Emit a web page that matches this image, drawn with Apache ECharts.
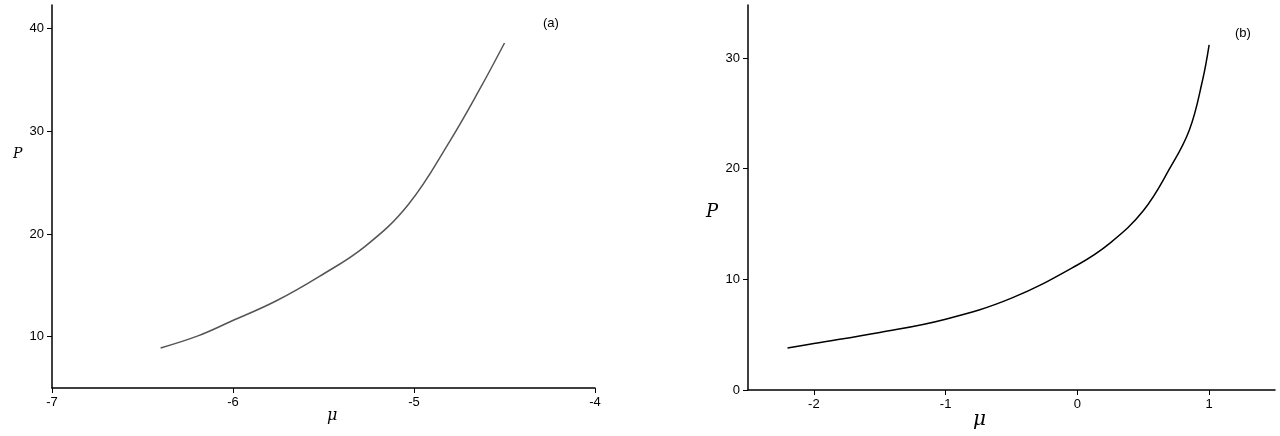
<!DOCTYPE html><html><head><meta charset="utf-8"><script src="https://cdn.jsdelivr.net/npm/echarts@6/dist/echarts.min.js"></script></head><body style="margin:0;background:#fff"><div id="c" style="width:1280px;height:436px"></div><script>
const muA=[-6.40,-6.19,-6.01,-5.76,-5.52,-5.27,-5.03,-4.80,-4.64,-4.50];
const pA=[8.9,10.1,11.5,13.5,15.9,18.8,22.9,29.1,34.0,38.6];
const muB=[-2.2,-2.0,-1.5,-1.0,-0.5,0,0.25,0.5,0.7,0.85,0.95,1.0];
const pB=[3.8,4.2,5.2,6.4,8.3,11.3,13.3,16.2,20,23.5,28,31.2];
const ticksA=[-7,-6,-5,-4], yTicksA=[10,20,30,40];
const ticksB=[-2,-1,0,1], yTicksB=[0,10,20,30];
const ax={axisLine:{onZero:false,lineStyle:{color:'#000',width:1.5}},splitLine:{show:false},axisLabel:{color:'#000',fontSize:13,fontFamily:'Arial'},axisTick:{lineStyle:{color:'#000'}}};
const c=echarts.init(document.getElementById('c'));
c.setOption({animation:false,
grid:[{left:52,right:685,top:5,bottom:48},{left:748,right:5,top:5,bottom:46}],
xAxis:[{...ax,type:'value',gridIndex:0,min:-7,max:-4,interval:1,axisLabel:{...ax.axisLabel,customValues:ticksA},axisTick:{...ax.axisTick,customValues:ticksA}},
{...ax,type:'value',gridIndex:1,min:-2.5,max:1.5,axisLabel:{...ax.axisLabel,customValues:ticksB},axisTick:{...ax.axisTick,customValues:ticksB}}],
yAxis:[{...ax,type:'value',gridIndex:0,min:5,max:42.3,axisLabel:{...ax.axisLabel,customValues:yTicksA},axisTick:{...ax.axisTick,customValues:yTicksA}},
{...ax,type:'value',gridIndex:1,min:0,max:34.8,axisLabel:{...ax.axisLabel,customValues:yTicksB},axisTick:{...ax.axisTick,customValues:yTicksB}}],
series:[{type:'line',xAxisIndex:0,yAxisIndex:0,data:muA.map((x,i)=>[x,pA[i]]),smooth:0.4,showSymbol:false,lineStyle:{color:'#555',width:1.5}},
{type:'line',xAxisIndex:1,yAxisIndex:1,data:muB.map((x,i)=>[x,pB[i]]),smooth:0.4,showSymbol:false,lineStyle:{color:'#000',width:1.5}}],
graphic:[
{type:'text',left:543,top:17,style:{text:'(a)',font:'13px Arial',fill:'#000'}},
{type:'text',left:1235,top:27,style:{text:'(b)',font:'13px Arial',fill:'#000'}},
{type:'text',left:327,top:408,style:{text:'μ',font:'italic 16px "DejaVu Serif"',fill:'#000'}},
{type:'text',left:13,top:147,style:{text:'P',font:'italic 14px "DejaVu Serif"',fill:'#000'}},
{type:'text',left:973,top:410,style:{text:'μ',font:'italic 20px "DejaVu Serif"',fill:'#000'}},
{type:'text',left:706,top:203,style:{text:'P',font:'italic 18px "DejaVu Serif"',fill:'#000'}}
]});
</script></body></html>
